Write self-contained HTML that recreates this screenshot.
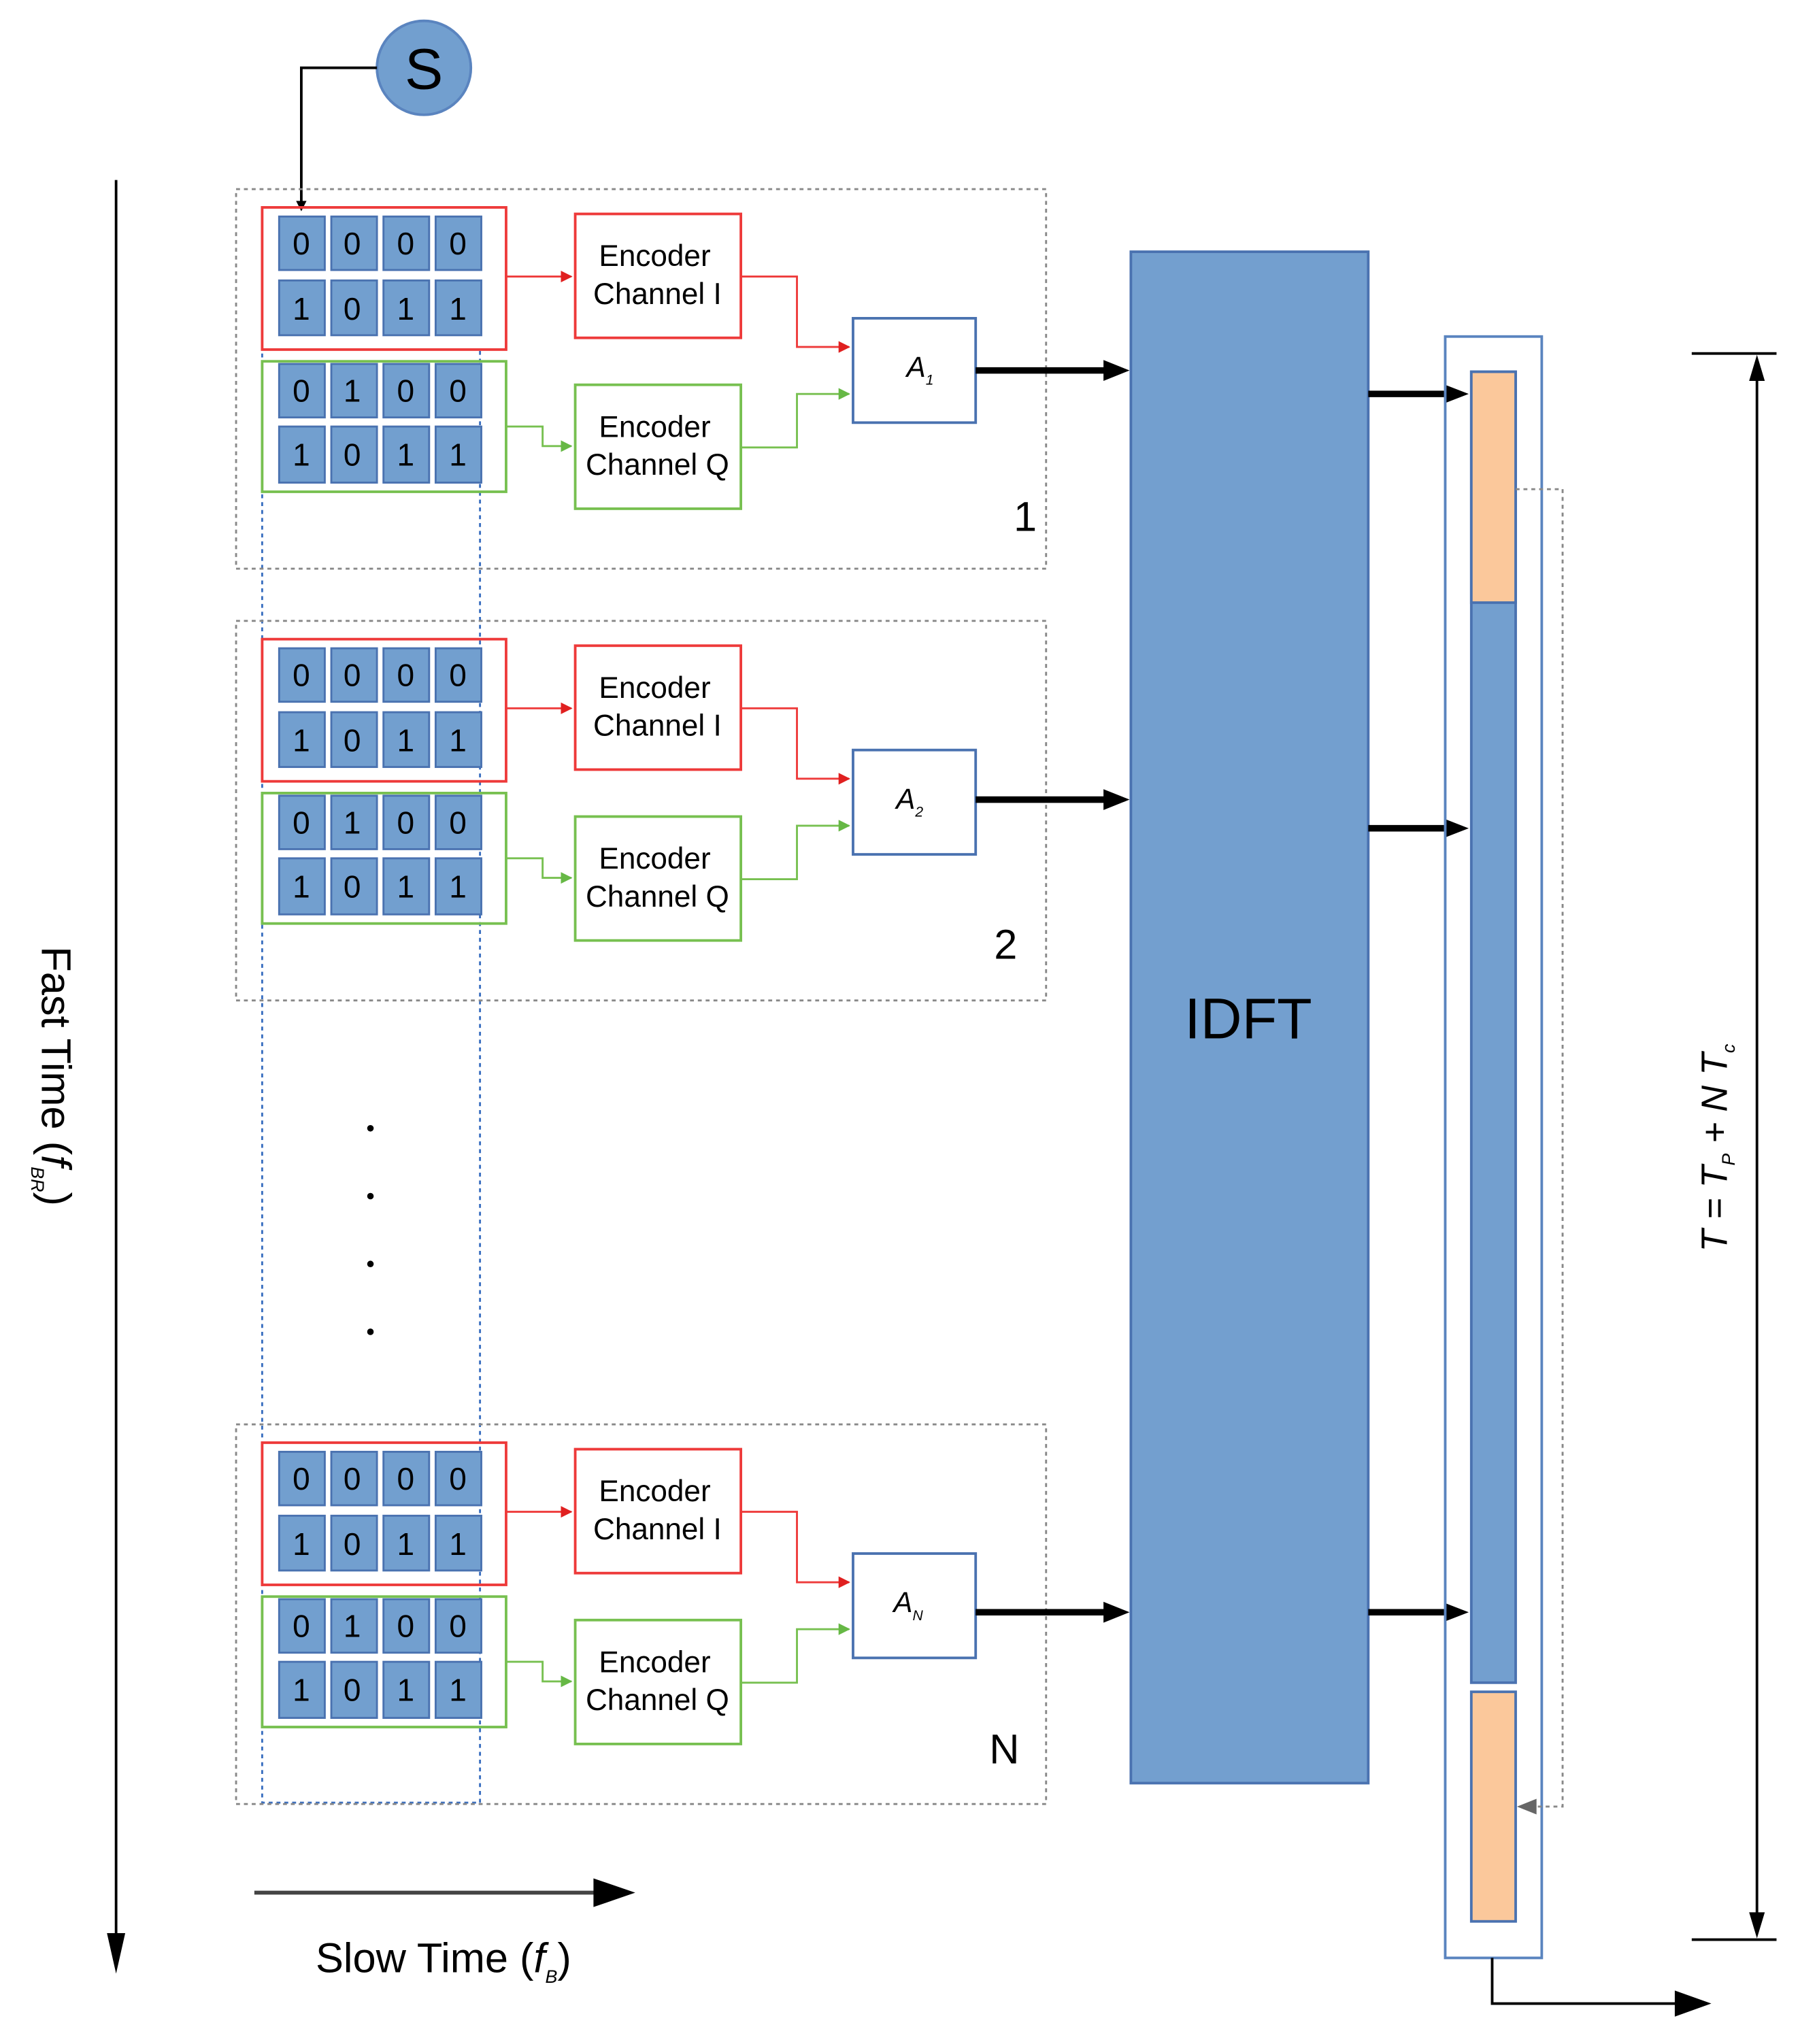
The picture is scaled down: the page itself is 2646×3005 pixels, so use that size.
<!DOCTYPE html>
<html><head><meta charset="utf-8"><style>
html,body{margin:0;padding:0;background:#fff;}
svg{display:block;}
text{font-family:"Liberation Sans",sans-serif;}
</style></head><body>
<svg width="2646" height="3005" viewBox="0 0 1380 1567" preserveAspectRatio="none" xmlns="http://www.w3.org/2000/svg">
<defs>
<marker id="ar" viewBox="0 0 10 10" refX="9" refY="5" markerWidth="6" markerHeight="6" orient="auto"><path d="M0,0 L10,5 L0,10 z" fill="#e02020"/></marker>
<marker id="ag" viewBox="0 0 10 10" refX="9" refY="5" markerWidth="6" markerHeight="6" orient="auto"><path d="M0,0 L10,5 L0,10 z" fill="#66b845"/></marker>
<g id="cells" fill="#729fcf" stroke="#4a72b0" stroke-width="1.5"></g>
</defs>

<!-- S -->
<ellipse cx="325" cy="52" rx="36" ry="36" fill="#729fcf" stroke="#5a84bf" stroke-width="2"/>
<text x="325" y="68" font-size="44" text-anchor="middle" fill="#000">S</text>
<polyline points="289,52 231,52 231,158" fill="none" stroke="#000" stroke-width="2"/>
<path d="M227,154 L235,154 L231,162 z" fill="#000"/>

<!-- blue dotted column -->
<rect x="201" y="268" width="167" height="1114" fill="none" stroke="#3a6fc0" stroke-width="1.5" stroke-dasharray="3,3"/>

<!-- block template (repeated) -->
<g id="blk1">
<rect x="181" y="145" width="621" height="291" fill="none" stroke="#888" stroke-width="1.5" stroke-dasharray="3,3"/>
<rect x="201" y="159" width="187" height="109" fill="none" stroke="#ee3a3a" stroke-width="2"/>
<rect x="201" y="277" width="187" height="100" fill="none" stroke="#77c050" stroke-width="2"/>
<g fill="#729fcf" stroke="#4a72b0" stroke-width="1.5">
<rect x="214" y="166" width="35" height="41"/><rect x="254" y="166" width="35" height="41"/><rect x="294" y="166" width="35" height="41"/><rect x="334" y="166" width="35" height="41"/>
<rect x="214" y="215" width="35" height="42"/><rect x="254" y="215" width="35" height="42"/><rect x="294" y="215" width="35" height="42"/><rect x="334" y="215" width="35" height="42"/>
<rect x="214" y="279" width="35" height="41"/><rect x="254" y="279" width="35" height="41"/><rect x="294" y="279" width="35" height="41"/><rect x="334" y="279" width="35" height="41"/>
<rect x="214" y="327" width="35" height="43"/><rect x="254" y="327" width="35" height="43"/><rect x="294" y="327" width="35" height="43"/><rect x="334" y="327" width="35" height="43"/>
</g>
<g font-size="24" text-anchor="middle" fill="#000">
<text x="231" y="195">0</text><text x="270" y="195">0</text><text x="311" y="195">0</text><text x="351" y="195">0</text>
<text x="231" y="245">1</text><text x="270" y="245">0</text><text x="311" y="245">1</text><text x="351" y="245">1</text>
<text x="231" y="308">0</text><text x="270" y="308">1</text><text x="311" y="308">0</text><text x="351" y="308">0</text>
<text x="231" y="357">1</text><text x="270" y="357">0</text><text x="311" y="357">1</text><text x="351" y="357">1</text>
</g>
<rect x="441" y="164" width="127" height="95" fill="#fff" stroke="#ee3a3a" stroke-width="2"/>
<rect x="441" y="295" width="127" height="95" fill="#fff" stroke="#77c050" stroke-width="2"/>
<g font-size="23" text-anchor="middle" fill="#000">
<text x="502" y="204">Encoder</text><text x="504" y="233">Channel I</text>
<text x="502" y="335">Encoder</text><text x="504" y="364">Channel Q</text>
</g>
<polyline points="388,212 438,212" fill="none" stroke="#ee3a3a" stroke-width="1.5" marker-end="url(#ar)"/>
<polyline points="388,327 416,327 416,342 438,342" fill="none" stroke="#77c050" stroke-width="1.5" marker-end="url(#ag)"/>
<polyline points="568,212 611,212 611,266 651,266" fill="none" stroke="#ee3a3a" stroke-width="1.5" marker-end="url(#ar)"/>
<polyline points="568,343 611,343 611,302 651,302" fill="none" stroke="#77c050" stroke-width="1.5" marker-end="url(#ag)"/>
<rect x="654" y="244" width="94" height="80" fill="#fff" stroke="#4a72b0" stroke-width="2"/>
<line x1="748" y1="284" x2="850" y2="284" stroke="#000" stroke-width="5"/>
<path d="M846,276 L866,284 L846,292 z" fill="#000"/>
</g>
<text x="695" y="289" font-size="22" font-style="italic" fill="#000">A<tspan font-size="11" dy="6">1</tspan></text>
<text x="786" y="407" font-size="32" text-anchor="middle" fill="#000">1</text>

<g transform="translate(0,331)">
<rect x="181" y="145" width="621" height="291" fill="none" stroke="#888" stroke-width="1.5" stroke-dasharray="3,3"/>
<rect x="201" y="159" width="187" height="109" fill="none" stroke="#ee3a3a" stroke-width="2"/>
<rect x="201" y="277" width="187" height="100" fill="none" stroke="#77c050" stroke-width="2"/>
<g fill="#729fcf" stroke="#4a72b0" stroke-width="1.5">
<rect x="214" y="166" width="35" height="41"/><rect x="254" y="166" width="35" height="41"/><rect x="294" y="166" width="35" height="41"/><rect x="334" y="166" width="35" height="41"/>
<rect x="214" y="215" width="35" height="42"/><rect x="254" y="215" width="35" height="42"/><rect x="294" y="215" width="35" height="42"/><rect x="334" y="215" width="35" height="42"/>
<rect x="214" y="279" width="35" height="41"/><rect x="254" y="279" width="35" height="41"/><rect x="294" y="279" width="35" height="41"/><rect x="334" y="279" width="35" height="41"/>
<rect x="214" y="327" width="35" height="43"/><rect x="254" y="327" width="35" height="43"/><rect x="294" y="327" width="35" height="43"/><rect x="334" y="327" width="35" height="43"/>
</g>
<g font-size="24" text-anchor="middle" fill="#000">
<text x="231" y="195">0</text><text x="270" y="195">0</text><text x="311" y="195">0</text><text x="351" y="195">0</text>
<text x="231" y="245">1</text><text x="270" y="245">0</text><text x="311" y="245">1</text><text x="351" y="245">1</text>
<text x="231" y="308">0</text><text x="270" y="308">1</text><text x="311" y="308">0</text><text x="351" y="308">0</text>
<text x="231" y="357">1</text><text x="270" y="357">0</text><text x="311" y="357">1</text><text x="351" y="357">1</text>
</g>
<rect x="441" y="164" width="127" height="95" fill="#fff" stroke="#ee3a3a" stroke-width="2"/>
<rect x="441" y="295" width="127" height="95" fill="#fff" stroke="#77c050" stroke-width="2"/>
<g font-size="23" text-anchor="middle" fill="#000">
<text x="502" y="204">Encoder</text><text x="504" y="233">Channel I</text>
<text x="502" y="335">Encoder</text><text x="504" y="364">Channel Q</text>
</g>
<polyline points="388,212 438,212" fill="none" stroke="#ee3a3a" stroke-width="1.5" marker-end="url(#ar)"/>
<polyline points="388,327 416,327 416,342 438,342" fill="none" stroke="#77c050" stroke-width="1.5" marker-end="url(#ag)"/>
<polyline points="568,212 611,212 611,266 651,266" fill="none" stroke="#ee3a3a" stroke-width="1.5" marker-end="url(#ar)"/>
<polyline points="568,343 611,343 611,302 651,302" fill="none" stroke="#77c050" stroke-width="1.5" marker-end="url(#ag)"/>
<rect x="654" y="244" width="94" height="80" fill="#fff" stroke="#4a72b0" stroke-width="2"/>
<line x1="748" y1="282" x2="850" y2="282" stroke="#000" stroke-width="5"/>
<path d="M846,274 L866,282 L846,290 z" fill="#000"/>
<text x="687" y="289" font-size="22" font-style="italic" fill="#000">A<tspan font-size="11" dy="6">2</tspan></text>
<text x="771" y="404" font-size="32" text-anchor="middle" fill="#000">2</text>
</g>

<g transform="translate(0,947)">
<rect x="181" y="145" width="621" height="291" fill="none" stroke="#888" stroke-width="1.5" stroke-dasharray="3,3"/>
<rect x="201" y="159" width="187" height="109" fill="none" stroke="#ee3a3a" stroke-width="2"/>
<rect x="201" y="277" width="187" height="100" fill="none" stroke="#77c050" stroke-width="2"/>
<g fill="#729fcf" stroke="#4a72b0" stroke-width="1.5">
<rect x="214" y="166" width="35" height="41"/><rect x="254" y="166" width="35" height="41"/><rect x="294" y="166" width="35" height="41"/><rect x="334" y="166" width="35" height="41"/>
<rect x="214" y="215" width="35" height="42"/><rect x="254" y="215" width="35" height="42"/><rect x="294" y="215" width="35" height="42"/><rect x="334" y="215" width="35" height="42"/>
<rect x="214" y="279" width="35" height="41"/><rect x="254" y="279" width="35" height="41"/><rect x="294" y="279" width="35" height="41"/><rect x="334" y="279" width="35" height="41"/>
<rect x="214" y="327" width="35" height="43"/><rect x="254" y="327" width="35" height="43"/><rect x="294" y="327" width="35" height="43"/><rect x="334" y="327" width="35" height="43"/>
</g>
<g font-size="24" text-anchor="middle" fill="#000">
<text x="231" y="195">0</text><text x="270" y="195">0</text><text x="311" y="195">0</text><text x="351" y="195">0</text>
<text x="231" y="245">1</text><text x="270" y="245">0</text><text x="311" y="245">1</text><text x="351" y="245">1</text>
<text x="231" y="308">0</text><text x="270" y="308">1</text><text x="311" y="308">0</text><text x="351" y="308">0</text>
<text x="231" y="357">1</text><text x="270" y="357">0</text><text x="311" y="357">1</text><text x="351" y="357">1</text>
</g>
<rect x="441" y="164" width="127" height="95" fill="#fff" stroke="#ee3a3a" stroke-width="2"/>
<rect x="441" y="295" width="127" height="95" fill="#fff" stroke="#77c050" stroke-width="2"/>
<g font-size="23" text-anchor="middle" fill="#000">
<text x="502" y="204">Encoder</text><text x="504" y="233">Channel I</text>
<text x="502" y="335">Encoder</text><text x="504" y="364">Channel Q</text>
</g>
<polyline points="388,212 438,212" fill="none" stroke="#ee3a3a" stroke-width="1.5" marker-end="url(#ar)"/>
<polyline points="388,327 416,327 416,342 438,342" fill="none" stroke="#77c050" stroke-width="1.5" marker-end="url(#ag)"/>
<polyline points="568,212 611,212 611,266 651,266" fill="none" stroke="#ee3a3a" stroke-width="1.5" marker-end="url(#ar)"/>
<polyline points="568,343 611,343 611,302 651,302" fill="none" stroke="#77c050" stroke-width="1.5" marker-end="url(#ag)"/>
<rect x="654" y="244" width="94" height="80" fill="#fff" stroke="#4a72b0" stroke-width="2"/>
<line x1="748" y1="289" x2="850" y2="289" stroke="#000" stroke-width="5"/>
<path d="M846,281 L866,289 L846,297 z" fill="#000"/>
<text x="685" y="289" font-size="22" font-style="italic" fill="#000">A<tspan font-size="11" dy="6">N</tspan></text>
<text x="770" y="405" font-size="32" text-anchor="middle" fill="#000">N</text>
</g>

<!-- dots -->
<g fill="#000"><circle cx="284" cy="865" r="2.5"/><circle cx="284" cy="917" r="2.5"/><circle cx="284" cy="969" r="2.5"/><circle cx="284" cy="1021" r="2.5"/></g>

<!-- IDFT -->
<rect x="867" y="193" width="182" height="1174" fill="#739fcf" stroke="#4a72b0" stroke-width="2"/>
<text x="957" y="796" font-size="44" text-anchor="middle" fill="#000">IDFT</text>

<!-- outputs from IDFT -->
<g stroke="#000" stroke-width="5">
<line x1="1049" y1="302" x2="1112" y2="302"/><line x1="1049" y1="635" x2="1112" y2="635"/><line x1="1049" y1="1236" x2="1112" y2="1236"/>
</g>
<g fill="#000">
<path d="M1108,295 L1126,302 L1108,309 z"/><path d="M1108,628 L1126,635 L1108,642 z"/><path d="M1108,1229 L1126,1236 L1108,1243 z"/>
</g>

<!-- frame -->
<rect x="1108" y="258" width="74" height="1243" fill="none" stroke="#5a84bf" stroke-width="2"/>
<rect x="1128" y="285" width="34" height="1005" fill="#739fcf" stroke="#4a72b0" stroke-width="2"/>
<rect x="1128" y="285" width="34" height="177" fill="#fbc89b" stroke="#4a72b0" stroke-width="2"/>
<rect x="1128" y="1297" width="34" height="176" fill="#fbc89b" stroke="#4a72b0" stroke-width="2"/>
<polyline points="1162,375 1198,375 1198,1385 1172,1385" fill="none" stroke="#888" stroke-width="1.5" stroke-dasharray="3,3"/>
<path d="M1163,1385 L1178,1379 L1178,1391 z" fill="#666"/>

<!-- output -->
<polyline points="1144,1501 1144,1536 1295,1536" fill="none" stroke="#000" stroke-width="2"/>
<path d="M1284,1526 L1312,1536 L1284,1546 z" fill="#000"/>

<!-- dimension -->
<g stroke="#000" stroke-width="2">
<line x1="1297" y1="271" x2="1362" y2="271"/><line x1="1297" y1="1487" x2="1362" y2="1487"/>
<line x1="1347" y1="285" x2="1347" y2="1475"/>
</g>
<path d="M1347,272 L1341,292 L1353,292 z" fill="#000"/>
<path d="M1347,1486 L1341,1466 L1353,1466 z" fill="#000"/>
<text transform="translate(1324,880) rotate(-90)" font-size="28" font-style="italic" text-anchor="middle" fill="#000">T = T<tspan font-size="14" dy="6">P</tspan><tspan dy="-6"> + N T</tspan><tspan font-size="14" dy="6">c</tspan></text>

<!-- fast time axis -->
<line x1="89" y1="138" x2="89" y2="1495" stroke="#000" stroke-width="2"/>
<path d="M82,1482 L96,1482 L89,1513 z" fill="#000"/>
<text transform="translate(32,825) rotate(90)" font-size="32" text-anchor="middle" fill="#000">Fast Time (<tspan font-style="italic">f</tspan><tspan font-size="14" font-style="italic" dy="8">BR</tspan><tspan dy="-8">)</tspan></text>

<!-- slow time axis -->
<line x1="195" y1="1451" x2="462" y2="1451" stroke="#444" stroke-width="3"/>
<path d="M455,1440 L487,1451 L455,1462 z" fill="#000"/>
<text x="340" y="1512" font-size="32" text-anchor="middle" fill="#000">Slow Time (<tspan font-style="italic">f</tspan><tspan font-size="14" font-style="italic" dy="8">B</tspan><tspan dy="-8">)</tspan></text>
</svg>
</body></html>
